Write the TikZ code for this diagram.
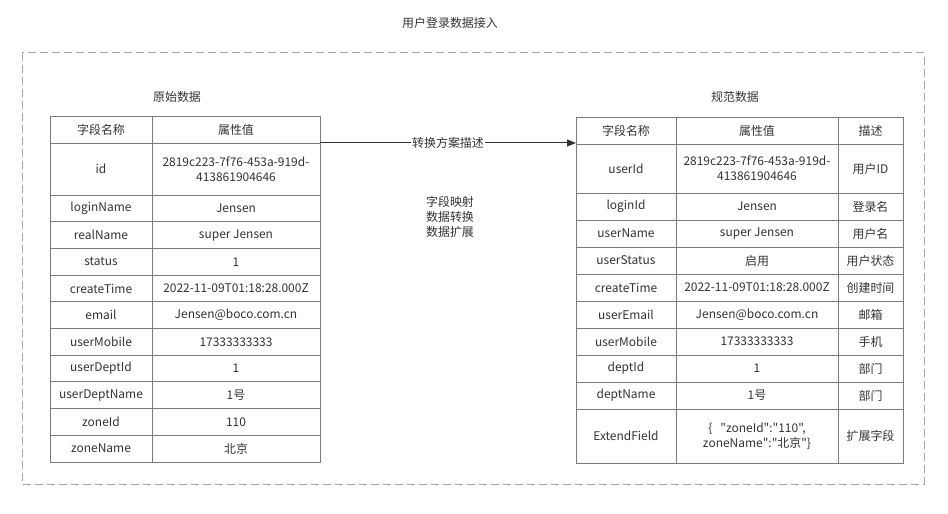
\documentclass[tikz,border=0pt]{standalone}
\usepackage{fontspec}
\setmainfont{Noto Sans CJK SC}[Ligatures=TeXOff]
\usetikzlibrary{arrows.meta,positioning}
\definecolor{Ink}{HTML}{333333}
\definecolor{Rule}{HTML}{7A7A7A}
\definecolor{Frame}{HTML}{A6A6A6}
\colorlet{ink}{Ink}
\colorlet{rule}{Rule}
\colorlet{frame}{Frame}

\begin{document}
\begin{tikzpicture}[x=1bp,y=-1bp,every node/.style={font=\fontsize{12}{15}\selectfont,align=center,text=ink},
  cell/.style={draw=rule,line width=0.9bp,inner sep=0pt,outer sep=0pt,minimum height=#1,anchor=north west}]
\useasboundingbox[fill=white] (0,0) rectangle (948,514);
\node (title) at (450,23) {用户登录数据接入};
\draw[frame,line width=1bp,dash pattern=on 8bp off 4bp] (22,53) rectangle (924,484);
\node (srcname) at (177,97) {原始数据};
\node (dstname) at (735,97) {规范数据};
% source table
\node[cell=27bp,minimum width=102bp] (la0) at (50,116) {字段名称};
\node[cell=27bp,minimum width=168bp] (lb0) at (la0.north east) {属性值};
\foreach \ka/\kb/\h [count=\i, remember=\i as \j (initially 0)] in {id/{2819c223-7f76-453a-919d-\\413861904646}/52,loginName/Jensen/26.7,realName/super Jensen/26.7,status/1/26.7,createTime/2022-11-09T01:18:28.000Z/26.7,email/Jensen@boco.com.cn/26.7,userMobile/17333333333/26.7,userDeptId/1/26.7,userDeptName/1号/26.7,zoneId/110/26.7,zoneName/北京/26.7}{
  \node[cell=\h bp,minimum width=102bp] (la\i) at (la\j.south west) {\ka};
  \node[cell=\h bp,minimum width=168bp] (lb\i) at (la\i.north east) {\kb};
}
% target table
\node[cell=27bp,minimum width=100bp] (ra0) at (576,117) {字段名称};
\node[cell=27bp,minimum width=162bp] (rb0) at (ra0.north east) {属性值};
\node[cell=27bp,minimum width=65bp] (rc0) at (rb0.north east) {描述};
\foreach \ka/\kb/\kc/\h [count=\i, remember=\i as \j (initially 0)] in {userId/{2819c223-7f76-453a-919d-\\413861904646}/用户ID/49,loginId/Jensen/登录名/27,userName/super Jensen/用户名/27,userStatus/启用/用户状态/27,createTime/2022-11-09T01:18:28.000Z/创建时间/27,userEmail/Jensen@boco.com.cn/邮箱/27,userMobile/17333333333/手机/27,deptId/1/部门/27,deptName/1号/部门/27,ExtendField/{\{\ \ \ "zoneId":"110",\\zoneName":"北京"\}}/扩展字段/54}{
  \node[cell=\h bp,minimum width=100bp] (ra\i) at (ra\j.south west) {\ka};
  \node[cell=\h bp,minimum width=162bp] (rb\i) at (ra\i.north east) {\kb};
  \node[cell=\h bp,minimum width=65bp] (rc\i) at (rb\i.north east) {\kc};
}
\draw[-{Triangle[length=9bp,width=7bp]},ink,line width=1bp] (lb0.south east) -- (lb0.south east -| ra0.west)
  node[midway,fill=white,inner sep=1bp] (planlabel) {转换方案描述};
\node (steps) at (450,217) {字段映射\\数据转换\\数据扩展};
\end{tikzpicture}
\end{document}
